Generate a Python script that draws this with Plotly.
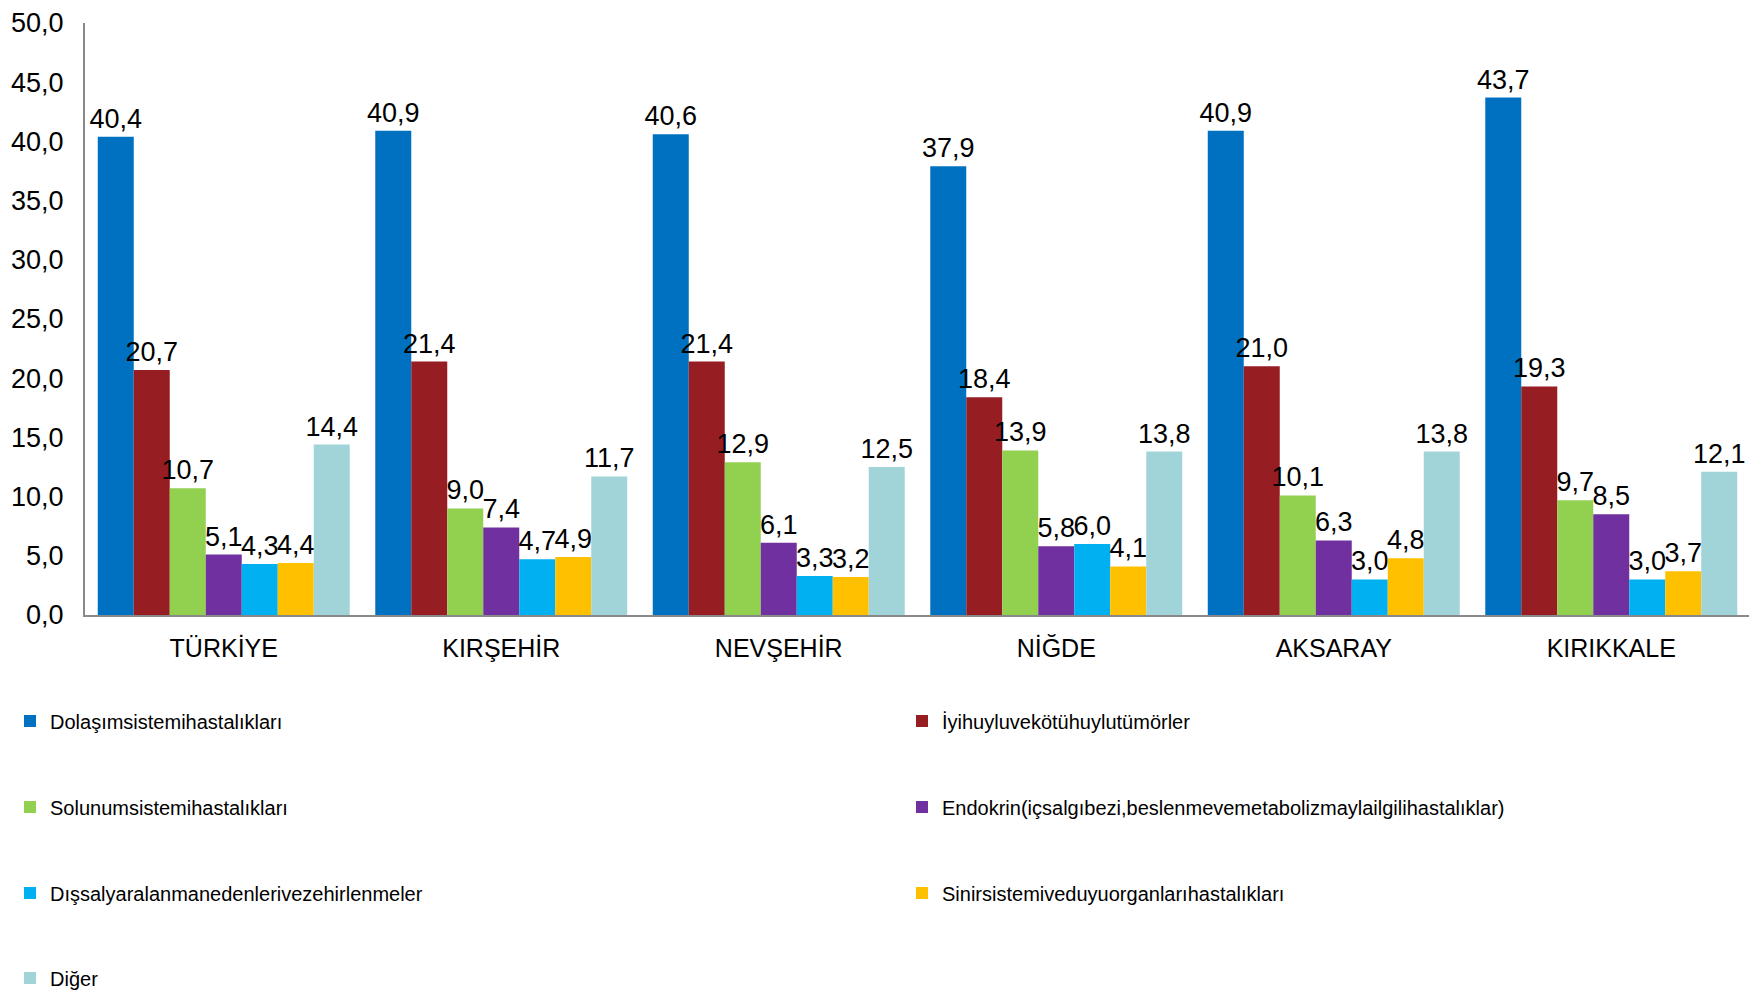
import plotly.graph_objects as go

categories = ["TÜRKİYE", "KIRŞEHİR", "NEVŞEHİR", "NİĞDE", "AKSARAY", "KIRIKKALE"]

series_names = [
    "Dolaşımsistemihastalıkları",
    "İyihuyluvekötühuylutümörler",
    "Solunumsistemihastalıkları",
    "Endokrin(içsalgıbezi,beslenmevemetabolizmaylailgilihastalıklar)",
    "Dışsalyaralanmanedenlerivezehirlenmeler",
    "Sinirsistemiveduyuorganlarıhastalıkları",
    "Diğer",
]

dolasim = [40.4, 40.9, 40.6, 37.9, 40.9, 43.7]
tumor = [20.7, 21.4, 21.4, 18.4, 21.0, 19.3]
solunum = [10.7, 9.0, 12.9, 13.9, 10.1, 9.7]
endokrin = [5.1, 7.4, 6.1, 5.8, 6.3, 8.5]
dissal = [4.3, 4.7, 3.3, 6.0, 3.0, 3.0]
sinir = [4.4, 4.9, 3.2, 4.1, 4.8, 3.7]
diger = [14.4, 11.7, 12.5, 13.8, 13.8, 12.1]

series_values = [dolasim, tumor, solunum, endokrin, dissal, sinir, diger]
colors = ["#0070C0", "#961E23", "#92D050", "#7030A0", "#00B0F0", "#FFC000", "#A1D4D8"]
legend_ids = ["legend", "legend2", "legend3", "legend4", "legend5", "legend6", "legend7"]

NUM_FONT = "Liberation Sans, Arial, sans-serif"
LEG_FONT = "Liberation Sans, Arial, sans-serif"

fig = go.Figure()
for name, vals, col, lg in zip(series_names, series_values, colors, legend_ids):
    fig.add_trace(go.Bar(
        x=categories, y=vals, name=name,
        marker=dict(color=col, line=dict(width=0)),
        text=[f"{v:.1f}".replace(".", ",") for v in vals],
        textposition="outside",
        textfont=dict(family=NUM_FONT, size=27, color="#000000"),
        constraintext="none",
        cliponaxis=False,
        legend=lg,
        hoverinfo="skip",
    ))

# the page body adds an 8px offset; figure is sized so the plot lands where the reference has it
W, H = 1742, 988
leg_common = dict(
    orientation="v", xref="container", yref="container", xanchor="left", yanchor="middle",
    font=dict(family=LEG_FONT, size=20, color="#000000"),
    itemwidth=30, bgcolor="rgba(0,0,0,0)", borderwidth=0,
)
col_x = [2, 894]
rows_y = [713, 799, 885, 970]
positions = [(0, 0), (1, 0), (0, 1), (1, 1), (0, 2), (1, 2), (0, 3)]

legend_layout = {}
for lg, (c, r) in zip(legend_ids, positions):
    legend_layout[lg] = dict(leg_common, x=col_x[c] / W, y=1 - rows_y[r] / H)

fig.update_layout(
    width=W, height=H,
    paper_bgcolor="white", plot_bgcolor="white",
    margin=dict(l=77, r=0, t=15, b=381, autoexpand=False),
    barmode="group", bargap=0.092, bargroupgap=0,
    separators=", ",
    xaxis=dict(
        showline=True, linecolor="#898989", linewidth=2, showgrid=False,
        ticks="", tickfont=dict(family=NUM_FONT, size=25, color="#000000"),
        ticklabelstandoff=10,
    ),
    yaxis=dict(
        range=[0, 50], dtick=5, tickformat=".1f",
        showline=True, linecolor="#898989", linewidth=2, showgrid=False,
        ticks="", tickfont=dict(family=NUM_FONT, size=27, color="#000000"),
        ticklabelstandoff=14, zeroline=False, ticklabeloverflow="allow",
    ),
    showlegend=True,
    **legend_layout,
)

fig.write_html("out.html")
